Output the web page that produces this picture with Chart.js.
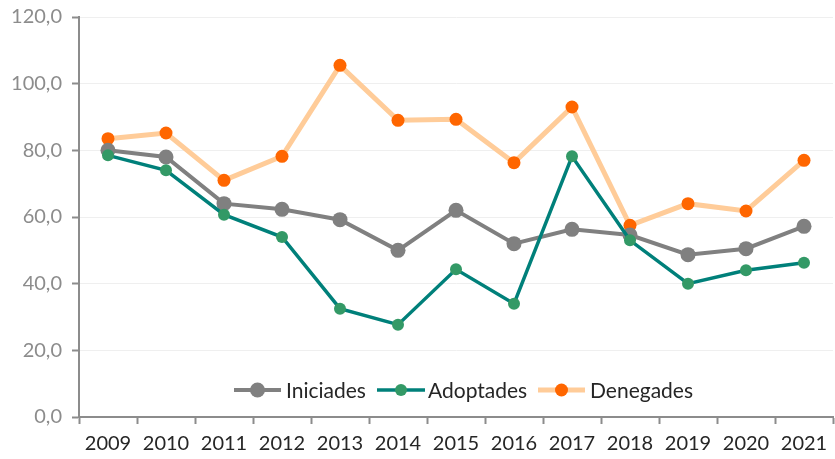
<!DOCTYPE html>
<html>
<head>
<meta charset="utf-8">
<script src="https://cdn.jsdelivr.net/npm/chart.js@4.4.1/dist/chart.umd.min.js"></script>
<style>
html,body{margin:0;padding:0;background:#fff;}
#wrap{width:835px;height:459px;position:relative;}
</style>
</head>
<body>
<div id="wrap"><canvas id="c" width="835" height="459"></canvas></div>
<script>
const years = ['2009','2010','2011','2012','2013','2014','2015','2016','2017','2018','2019','2020','2021'];
const iniciades = [80.0, 78.0, 64.0, 62.3, 59.2, 50.0, 62.0, 52.0, 56.3, 54.6, 48.7, 50.5, 57.2];
const adoptades = [78.5, 74.0, 60.7, 54.0, 32.5, 27.7, 44.3, 34.0, 78.2, 53.0, 40.0, 44.0, 46.3];
const denegades = [83.5, 85.2, 71.0, 78.2, 105.5, 89.0, 89.3, 76.3, 93.0, 57.5, 64.0, 61.8, 77.0];
const seriesNames = ['Iniciades','Adoptades','Denegades'];
const yTicks = [0,20,40,60,80,100,120];

const FONT = 'Lato, "Open Sans", sans-serif';

const legendPlugin = {
  id: 'insideLegend',
  afterDraw(chart) {
    const ctx = chart.ctx;
    const y = 390;
    const items = [
      {ds: 0, lineX: [234, 281], textX: 286},
      {ds: 1, lineX: [377, 425], textX: 428},
      {ds: 2, lineX: [538, 585], textX: 590}
    ];
    ctx.save();
    items.forEach(it => {
      const d = chart.data.datasets[it.ds];
      ctx.strokeStyle = d.borderColor;
      ctx.lineWidth = d.borderWidth;
      ctx.beginPath();
      ctx.moveTo(it.lineX[0], y);
      ctx.lineTo(it.lineX[1], y);
      ctx.stroke();
      ctx.fillStyle = d.pointBackgroundColor;
      ctx.beginPath();
      ctx.arc((it.lineX[0] + it.lineX[1]) / 2, y, d.pointRadius, 0, Math.PI * 2);
      ctx.fill();
      ctx.fillStyle = '#262626';
      ctx.font = '21px ' + FONT;
      ctx.textBaseline = 'middle';
      ctx.textAlign = 'left';
      ctx.fillText(d.label, it.textX, y + 1);
    });
    ctx.restore();
  }
};

new Chart(document.getElementById('c'), {
  type: 'line',
  data: {
    labels: years,
    datasets: [
      {label: seriesNames[0], data: iniciades, borderColor: '#808080', borderWidth: 4,
       pointBackgroundColor: '#808080', pointBorderColor: '#808080', pointRadius: 7.5, pointBorderWidth: 0, order: 2},
      {label: seriesNames[1], data: adoptades, borderColor: '#00807a', borderWidth: 3.5,
       pointBackgroundColor: '#339966', pointBorderColor: '#339966', pointRadius: 6, pointBorderWidth: 0, order: 1},
      {label: seriesNames[2], data: denegades, borderColor: '#ffcc99', borderWidth: 5,
       pointBackgroundColor: '#ff6600', pointBorderColor: '#ff6600', pointRadius: 6.5, pointBorderWidth: 0, order: 3}
    ]
  },
  options: {
    responsive: false,
    animation: false,
    layout: {autoPadding: false, padding: {top: 17, right: 2, left: 0, bottom: 0}},
    plugins: {legend: {display: false}, tooltip: {enabled: false}},
    scales: {
      x: {
        offset: true,
        grid: {offset: true, drawOnChartArea: false, drawTicks: true, tickLength: 7, tickColor: '#8c8c8c', tickWidth: 2},
        border: {display: true, color: '#8c8c8c', width: 2},
        ticks: {color: '#262626', font: {family: FONT, size: 20}, padding: 8, maxRotation: 0},
        afterFit(s) { s.height = 42; s.paddingLeft = 0; s.paddingRight = 0; s.paddingTop = 0; s.paddingBottom = 0; }
      },
      y: {
        min: 0, max: 120,
        afterBuildTicks(s) { s.ticks = yTicks.map(v => ({value: v})); },
        grid: {color: '#efefef', lineWidth: 1, drawTicks: true, tickLength: 7, tickColor: '#8c8c8c', tickWidth: 2},
        border: {display: true, color: '#8c8c8c', width: 2},
        ticks: {color: '#8c8c8c', font: {family: FONT, size: 20}, padding: 10,
          callback: v => v.toFixed(1).replace('.', ',')},
        afterFit(s) { s.width = 79; s.paddingLeft = 0; s.paddingRight = 0; s.paddingTop = 0; s.paddingBottom = 0; }
      }
    }
  },
  plugins: [legendPlugin]
});
</script>
</body>
</html>
